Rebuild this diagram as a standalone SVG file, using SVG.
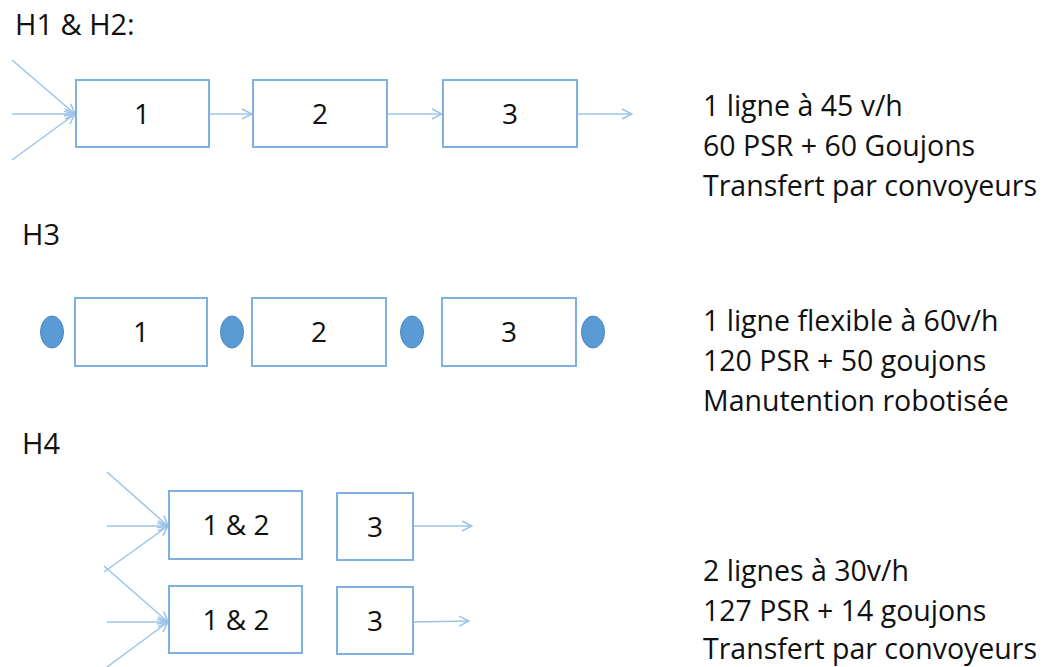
<svg xmlns="http://www.w3.org/2000/svg" width="1043" height="667" viewBox="0 0 1043 667">
<style>
.box{fill:#fff;stroke:#7fb0e0;stroke-width:2}
.ln{stroke:#9cc3e8;stroke-width:1.5;fill:none}
.t{font-family:"Open Sans","Liberation Sans",sans-serif;font-size:28.5px;fill:#111}
.h{font-family:"Open Sans","Liberation Sans",sans-serif;font-size:29px;fill:#111}
.n{font-family:"Open Sans","Liberation Sans",sans-serif;font-size:28px;fill:#111;text-anchor:middle}
.dot{fill:#5b9bd5;stroke:#4a86c0;stroke-width:1}
</style>
<defs>
<marker id="ah" viewBox="0 0 12 12" refX="11" refY="6" markerWidth="12" markerHeight="12" markerUnits="userSpaceOnUse" orient="auto">
<path d="M1,1 L11,6 L1,11" fill="none" stroke="#9cc3e8" stroke-width="1.5"/>
</marker>
</defs>
<rect width="1043" height="667" fill="#fff"/>
<text class="h" x="15" y="35">H1 &amp; H2:</text>
<text class="h" x="22" y="245">H3</text>
<text class="h" x="22" y="454">H4</text>
<g id="connectors">
<line class="ln" x1="12" y1="60" x2="75" y2="114" marker-end="url(#ah)"/>
<line class="ln" x1="12" y1="114" x2="75" y2="114" marker-end="url(#ah)"/>
<line class="ln" x1="12" y1="160" x2="75" y2="114" marker-end="url(#ah)"/>
<line class="ln" x1="209" y1="114" x2="252" y2="114" marker-end="url(#ah)"/>
<line class="ln" x1="387" y1="114" x2="442" y2="114" marker-end="url(#ah)"/>
<line class="ln" x1="577" y1="114" x2="632" y2="114" marker-end="url(#ah)"/>
<line class="ln" x1="107" y1="472" x2="168" y2="526" marker-end="url(#ah)"/>
<line class="ln" x1="107" y1="526" x2="168" y2="526" marker-end="url(#ah)"/>
<line class="ln" x1="104" y1="572" x2="168" y2="526" marker-end="url(#ah)"/>
<line class="ln" x1="413" y1="526" x2="472" y2="526" marker-end="url(#ah)"/>
<line class="ln" x1="104" y1="566" x2="168" y2="622" marker-end="url(#ah)"/>
<line class="ln" x1="107" y1="622" x2="168" y2="622" marker-end="url(#ah)"/>
<line class="ln" x1="107" y1="667" x2="168" y2="622" marker-end="url(#ah)"/>
<line class="ln" x1="413" y1="622" x2="469" y2="621" marker-end="url(#ah)"/>
</g>
<g id="h1-box1"><rect class="box" x="76" y="80" width="133" height="67"/><text class="n" x="142" y="124">1</text></g>
<g id="h1-box2"><rect class="box" x="253" y="80" width="134" height="67"/><text class="n" x="320" y="124">2</text></g>
<g id="h1-box3"><rect class="box" x="443" y="80" width="134" height="67"/><text class="n" x="510" y="124">3</text></g>
<g id="h3-dot1"><ellipse class="dot" cx="52" cy="332" rx="11.5" ry="16"/></g>
<g id="h3-box1"><rect class="box" x="75" y="298" width="132" height="68"/><text class="n" x="141" y="342">1</text></g>
<g id="h3-dot2"><ellipse class="dot" cx="232" cy="332" rx="11.5" ry="16"/></g>
<g id="h3-box2"><rect class="box" x="252" y="298" width="134" height="68"/><text class="n" x="319" y="342">2</text></g>
<g id="h3-dot3"><ellipse class="dot" cx="412" cy="332" rx="11.5" ry="16"/></g>
<g id="h3-box3"><rect class="box" x="442" y="298" width="134" height="68"/><text class="n" x="509" y="342">3</text></g>
<g id="h3-dot4"><ellipse class="dot" cx="593" cy="332" rx="11.5" ry="16"/></g>
<g id="h4-box12a"><rect class="box" x="169" y="491" width="133" height="68"/><text class="n" x="236" y="535">1 &amp; 2</text></g>
<g id="h4-box3a"><rect class="box" x="337" y="493" width="76" height="67"/><text class="n" x="375" y="537">3</text></g>
<g id="h4-box12b"><rect class="box" x="169" y="586" width="133" height="67"/><text class="n" x="236" y="630">1 &amp; 2</text></g>
<g id="h4-box3b"><rect class="box" x="337" y="587" width="76" height="67"/><text class="n" x="375" y="631">3</text></g>
<g id="desc-h1">
<text class="t" x="703" y="116">1 ligne à 45 v/h</text>
<text class="t" x="703" y="156">60 PSR + 60 Goujons</text>
<text class="t" x="703" y="196">Transfert par convoyeurs</text>
</g>
<g id="desc-h3">
<text class="t" x="703" y="331">1 ligne flexible à 60v/h</text>
<text class="t" x="703" y="371">120 PSR + 50 goujons</text>
<text class="t" x="703" y="411">Manutention robotisée</text>
</g>
<g id="desc-h4">
<text class="t" x="703" y="581">2 lignes à 30v/h</text>
<text class="t" x="703" y="621">127 PSR + 14 goujons</text>
<text class="t" x="703" y="659">Transfert par convoyeurs</text>
</g>
</svg>
